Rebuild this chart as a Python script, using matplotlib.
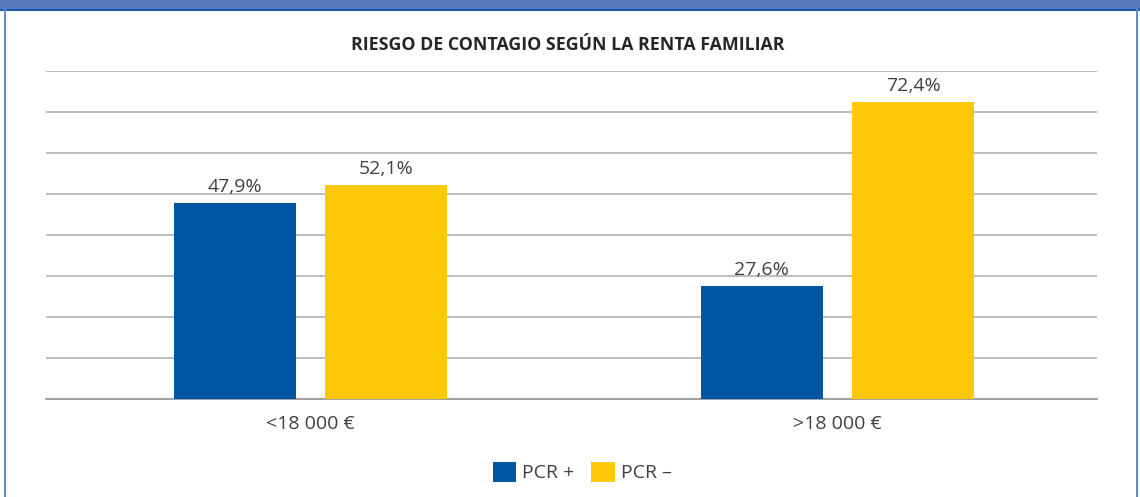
import matplotlib
matplotlib.use("Agg")
import matplotlib.pyplot as plt
from matplotlib.patches import Rectangle
import numpy as np

categories = ["<18 000 €", ">18 000 €"]
pcr_pos = [47.9, 27.6]
pcr_neg = [52.1, 72.4]
series_names = ["PCR +", "PCR –"]
title = "RIESGO DE CONTAGIO SEGÚN LA RENTA FAMILIAR"

BLUE = "#0055A5"
YELLOW = "#FFC90B"
TXT = "#404040"
FONT = ["Open Sans", "DejaVu Sans"]

W, H = 1140, 497
fig = plt.figure(figsize=(W / 100, H / 100), dpi=100)
plt.rcParams['font.family'] = FONT

# frame: header bar and side borders
fig.patches.append(Rectangle((0, 1 - 9 / H), 1, 9 / H, transform=fig.transFigure,
                             facecolor="#5679BE", edgecolor="none", zorder=0))
fig.patches.append(Rectangle((0, 1 - 10.5 / H), 1, 1.5 / H, transform=fig.transFigure,
                             facecolor="#1F5AA6", edgecolor="none", zorder=0))
fig.patches.append(Rectangle((4 / W, 0), 2 / W, 1 - 9 / H, transform=fig.transFigure,
                             facecolor="#5B8FD0", edgecolor="none", zorder=0))
fig.patches.append(Rectangle((1136 / W, 0), 2 / W, 1 - 9 / H, transform=fig.transFigure,
                             facecolor="#5B8FD0", edgecolor="none", zorder=0))

ax_l, ax_r, ax_t, ax_b = 46, 1097, 71, 399
ax = fig.add_axes([ax_l / W, 1 - ax_b / H, (ax_r - ax_l) / W, (ax_b - ax_t) / H])

x = np.arange(len(categories))
bw = 0.2315
off = 0.1435
b1 = ax.bar(x - off, pcr_pos, bw, color=BLUE, zorder=3, label=series_names[0])
b2 = ax.bar(x + off, pcr_neg, bw, color=YELLOW, zorder=3, label=series_names[1])

for bars, vals in ((b1, pcr_pos), (b2, pcr_neg)):
    for rect, v in zip(bars, vals):
        ax.annotate(f"{v:.1f}%".replace(".", ","),
                    (rect.get_x() + rect.get_width() / 2, v),
                    xytext=(0, 5), textcoords="offset points",
                    ha="center", va="bottom", fontsize=14, color=TXT)

ax.set_xlim(-0.502, 1.4924)
ax.set_ylim(0, 80)
ax.set_yticks(np.arange(0, 81, 10))
ax.yaxis.grid(True, color="#ABABAB", linewidth=1.1, zorder=0)
ax.tick_params(axis="y", left=False, labelleft=False)
ax.tick_params(axis="x", bottom=False, pad=8)
ax.set_xticks(x)
ax.set_xticklabels(categories, fontsize=14, color=TXT)
for s in ["top", "left", "right"]:
    ax.spines[s].set_visible(False)
ax.spines["bottom"].set_color("#A0A0A0")
ax.spines["bottom"].set_linewidth(1.4)

fig.text(568 / W, 1 - 45 / H, title, ha="center", va="center",
         fontsize=12.8, fontweight="bold", color="#262626")

fig.legend(handles=[b1, b2], labels=series_names, loc="center",
           bbox_to_anchor=(582 / W, 1 - 472 / H), ncol=2, frameon=False,
           fontsize=14, handlelength=1.2, handleheight=1.2,
           columnspacing=0.9, handletextpad=0.3, labelcolor=TXT)

fig.savefig("out.png", dpi=100, facecolor="white")
